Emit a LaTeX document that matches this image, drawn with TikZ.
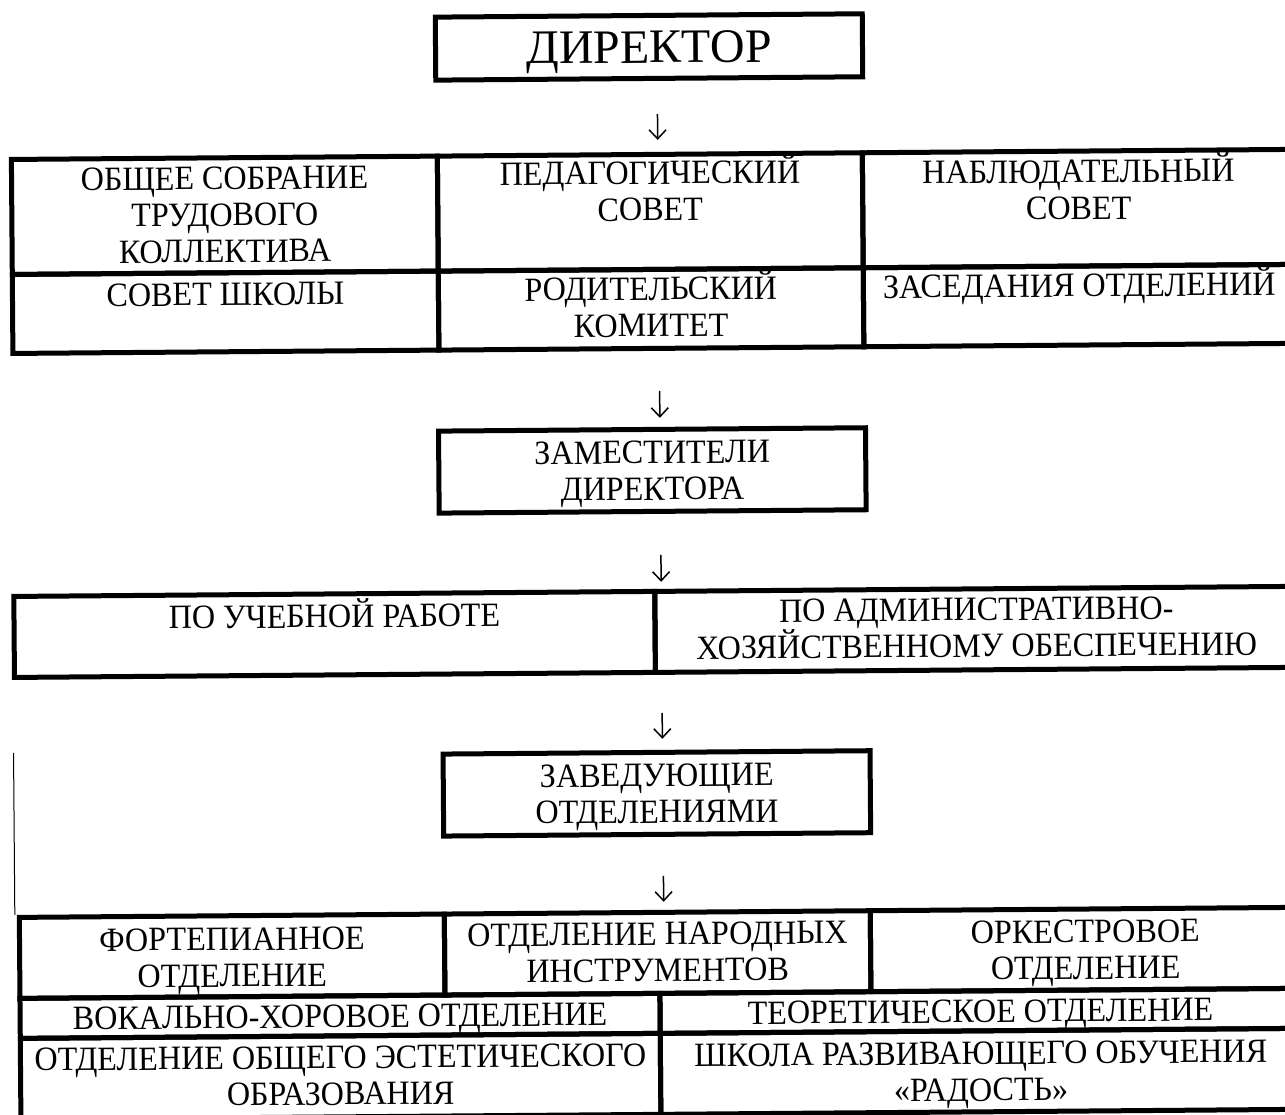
\documentclass[tikz,border=0pt]{standalone}
\usepackage{fontspec}
\setmainfont{Liberation Serif}
\newfontfamily\tabfamily{Liberation Serif}[FakeStretch=0.945]
\usetikzlibrary{positioning, arrows.meta}

\newcommand{\tabfont}{\tabfamily\fontsize{34}{36.5}\selectfont}
\newcommand{\cs}{\rule{0pt}{30pt}}

\begin{document}
\begin{tikzpicture}[
  x=1pt, y=-1pt,
  frame/.style={rectangle, draw, line width=5pt, inner sep=0pt, anchor=north west},
  boss/.style={frame, minimum width=427pt, minimum height=63pt, text depth=0pt, font=\fontsize{48}{50}\selectfont},
  head/.style={frame, minimum width=427pt, minimum height=82pt, text depth=0pt, align=center, font=\tabfont},
  txt/.style={inner sep=0pt, align=center, font=\tabfont},
  arrow/.style={-{Straight Barb[length=9pt, width=17pt]}, line width=1.5pt},
  edge/.style={line width=1pt}
]
\useasboundingbox[fill=white] (0,0) rectangle (1285,1114);

\begin{scope}[rotate around={0.45:(642,557)}, transform shape]
% Director
\node[boss] (dir) at (437,13) {ДИРЕКТОР};

% Councils
\node[frame, minimum width=426pt, minimum height=115pt] (sob) at (12,152) {};
\node[frame, minimum width=425pt, minimum height=115pt] (ped) at (438,152) {};
\node[frame, minimum width=432pt, minimum height=115pt] (nab) at (863,152) {};
\node[frame, minimum width=426pt, minimum height=79pt] (shk) at (12,267) {};
\node[frame, minimum width=425pt, minimum height=79pt] (rod) at (438,267) {};
\node[frame, minimum width=432pt, minimum height=79pt] (zas) at (863,267) {};
\node[txt, below=4pt of sob.north] (sobt) {\cs ОБЩЕЕ СОБРАНИЕ\\ТРУДОВОГО\\КОЛЛЕКТИВА};
\node[txt, below=2pt of ped.north] (pedt) {\cs ПЕДАГОГИЧЕСКИЙ\\СОВЕТ};
\node[txt, below=4pt of nab.north] (nabt) {\cs НАБЛЮДАТЕЛЬНЫЙ\\СОВЕТ};
\node[txt, below=5pt of shk.north] (shkt) {\cs СОВЕТ ШКОЛЫ};
\node[txt, below=3pt of rod.north] (rodt) {\cs РОДИТЕЛЬСКИЙ\\КОМИТЕТ};
\node[txt, below=3pt of zas.north] (zast) {\cs ЗАСЕДАНИЯ ОТДЕЛЕНИЙ};

% Deputies
\node[head] (zam) at (437,427) {ЗАМЕСТИТЕЛИ\\ДИРЕКТОРА};
\node[frame, minimum width=641pt, minimum height=81pt] (ucheb) at (11,589) {};
\node[frame, minimum width=643pt, minimum height=81pt] (adm) at (652,589) {};
\node[txt, below=6pt of ucheb.north] (uchebt) {\cs ПО УЧЕБНОЙ РАБОТЕ};
\node[txt, below=4pt of adm.north] (admt) {\cs ПО АДМИНИСТРАТИВНО-\\ХОЗЯЙСТВЕННОМУ ОБЕСПЕЧЕНИЮ};

% Heads of departments
\node[head] (zav) at (439,750) {ЗАВЕДУЮЩИЕ\\ОТДЕЛЕНИЯМИ};
\node[frame, minimum width=425pt, minimum height=81pt] (fort) at (14,910) {};
\node[frame, minimum width=426pt, minimum height=81pt] (nar) at (439,910) {};
\node[frame, minimum width=430pt, minimum height=81pt] (ork) at (865,910) {};
\node[frame, minimum width=640pt, minimum height=40pt] (vok) at (14,991) {};
\node[frame, minimum width=641pt, minimum height=40pt] (teor) at (654,991) {};
\node[frame, minimum width=640pt, minimum height=81pt] (est) at (14,1031) {};
\node[frame, minimum width=641pt, minimum height=81pt] (rad) at (654,1031) {};
\node[txt, below=7pt of fort.north] (fortt) {\cs ФОРТЕПИАННОЕ\\ОТДЕЛЕНИЕ};
\node[txt, below=5pt of nar.north] (nart) {\cs ОТДЕЛЕНИЕ НАРОДНЫХ\\ИНСТРУМЕНТОВ};
\node[txt, below=6pt of ork.north] (orkt) {\cs ОРКЕСТРОВОЕ\\ОТДЕЛЕНИЕ};
\node[txt, below=4pt of vok.north] (vokt) {\cs ВОКАЛЬНО-ХОРОВОЕ ОТДЕЛЕНИЕ};
\node[txt, below=4pt of teor.north] (teort) {\cs ТЕОРЕТИЧЕСКОЕ ОТДЕЛЕНИЕ};
\node[txt, below=5pt of est.north] (estt) {\cs ОТДЕЛЕНИЕ ОБЩЕГО ЭСТЕТИЧЕСКОГО\\ОБРАЗОВАНИЯ};
\node[txt, below=6pt of rad.north] (radt) {\cs ШКОЛА РАЗВИВАЮЩЕГО ОБУЧЕНИЯ\\«РАДОСТЬ»};

% Arrows
\coordinate (a1) at (661,114); \coordinate (b1) at (661,140);
\coordinate (a2) at (661,391); \coordinate (b2) at (661,418);
\coordinate (a3) at (661,555); \coordinate (b3) at (661,582);
\coordinate (a4) at (661,713); \coordinate (b4) at (661,739);
\coordinate (a5) at (661,876); \coordinate (b5) at (661,902);
\draw[arrow] (a1) -- (b1);
\draw[arrow] (a2) -- (b2);
\draw[arrow] (a3) -- (b3);
\draw[arrow] (a4) -- (b4);
\draw[arrow] (a5) -- (b5);

% Left margin line
\coordinate (m1) at (12,748);
\draw[edge] (m1) -- (m1 |- fort.north);
\end{scope}

\end{tikzpicture}
\end{document}
